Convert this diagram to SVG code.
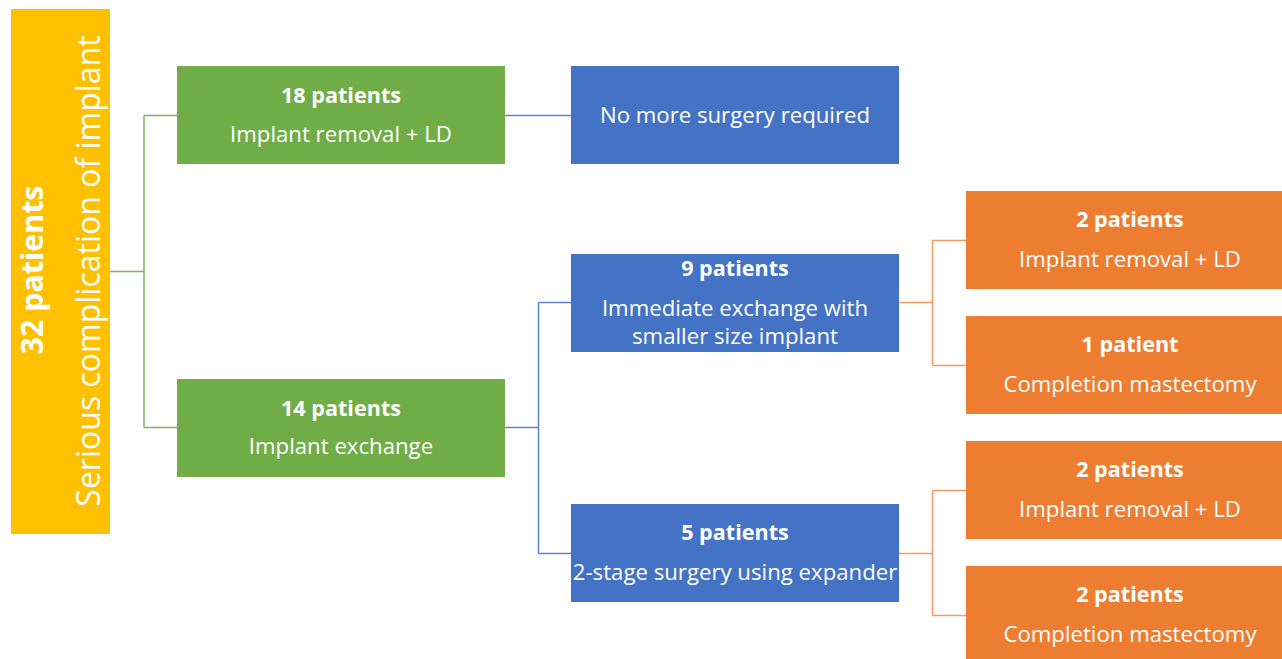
<svg xmlns="http://www.w3.org/2000/svg" width="1282" height="659" viewBox="0 0 1282 659">
<style>
text{font-family:"Open Sans","Noto Sans","Liberation Sans",sans-serif;fill:#fff;text-anchor:middle}
.b{font-weight:bold;font-size:21.6px}
.n{font-size:22.2px}
.g{fill:#70AD47}
.bl{fill:#4472C4}
.o{fill:#ED7D31}
.c{fill:none;stroke-width:1.5}
</style>
<rect width="1282" height="659" fill="#fff"/>
<g id="connectors">
<path class="c" stroke="#7DB45A" d="M110,271.5H144M144,115.5V427.5M144,115.5H177M144,427.5H177"/>
<path class="c" stroke="#5B83CC" d="M505,115.5H571M505,427.5H538.5M538.5,302.5V553.5M538.5,302.5H571M538.5,553.5H571"/>
<path class="c" stroke="#F29A5E" d="M899,302.5H932.5M932.5,240.5V365.5M932.5,240.5H966M932.5,365.5H966M899,553.5H932.5M932.5,490.5V615.5M932.5,490.5H966M932.5,615.5H966"/>
</g>
<g id="root">
<rect x="11" y="9" width="99" height="525" fill="#FFC000"/>
<text transform="translate(43,270) rotate(-90)" style="font-weight:bold;font-size:30.4px">32 patients</text>
<text transform="translate(100,271) rotate(-90)" style="font-size:32px">Serious complication of implant</text>
</g>
<g id="n18">
<rect class="g" x="177" y="66" width="328" height="98"/>
<text class="b" x="341" y="103">18 patients</text>
<text class="n" x="341" y="142">Implant removal + LD</text>
</g>
<g id="n14">
<rect class="g" x="177" y="379" width="328" height="98"/>
<text class="b" x="341" y="416">14 patients</text>
<text class="n" x="341" y="454">Implant exchange</text>
</g>
<g id="nomore">
<rect class="bl" x="571" y="66" width="328" height="98"/>
<text class="n" x="735" y="123">No more surgery required</text>
</g>
<g id="n9">
<rect class="bl" x="571" y="254" width="328" height="98"/>
<text class="b" x="735" y="276">9 patients</text>
<text class="n" x="735" y="316">Immediate exchange with</text>
<text class="n" x="735" y="344">smaller size implant</text>
</g>
<g id="n5">
<rect class="bl" x="571" y="504" width="328" height="98"/>
<text class="b" x="735" y="540">5 patients</text>
<text class="n" x="735" y="580">2-stage surgery using expander</text>
</g>
<g id="o1">
<rect class="o" x="966" y="191" width="328" height="98"/>
<text class="b" x="1130" y="227">2 patients</text>
<text class="n" x="1130" y="267">Implant removal + LD</text>
</g>
<g id="o2">
<rect class="o" x="966" y="316" width="328" height="98"/>
<text class="b" x="1130" y="352">1 patient</text>
<text class="n" x="1130" y="392">Completion mastectomy</text>
</g>
<g id="o3">
<rect class="o" x="966" y="441" width="328" height="98"/>
<text class="b" x="1130" y="477">2 patients</text>
<text class="n" x="1130" y="517">Implant removal + LD</text>
</g>
<g id="o4">
<rect class="o" x="966" y="566" width="328" height="98"/>
<text class="b" x="1130" y="602">2 patients</text>
<text class="n" x="1130" y="642">Completion mastectomy</text>
</g>
</svg>
